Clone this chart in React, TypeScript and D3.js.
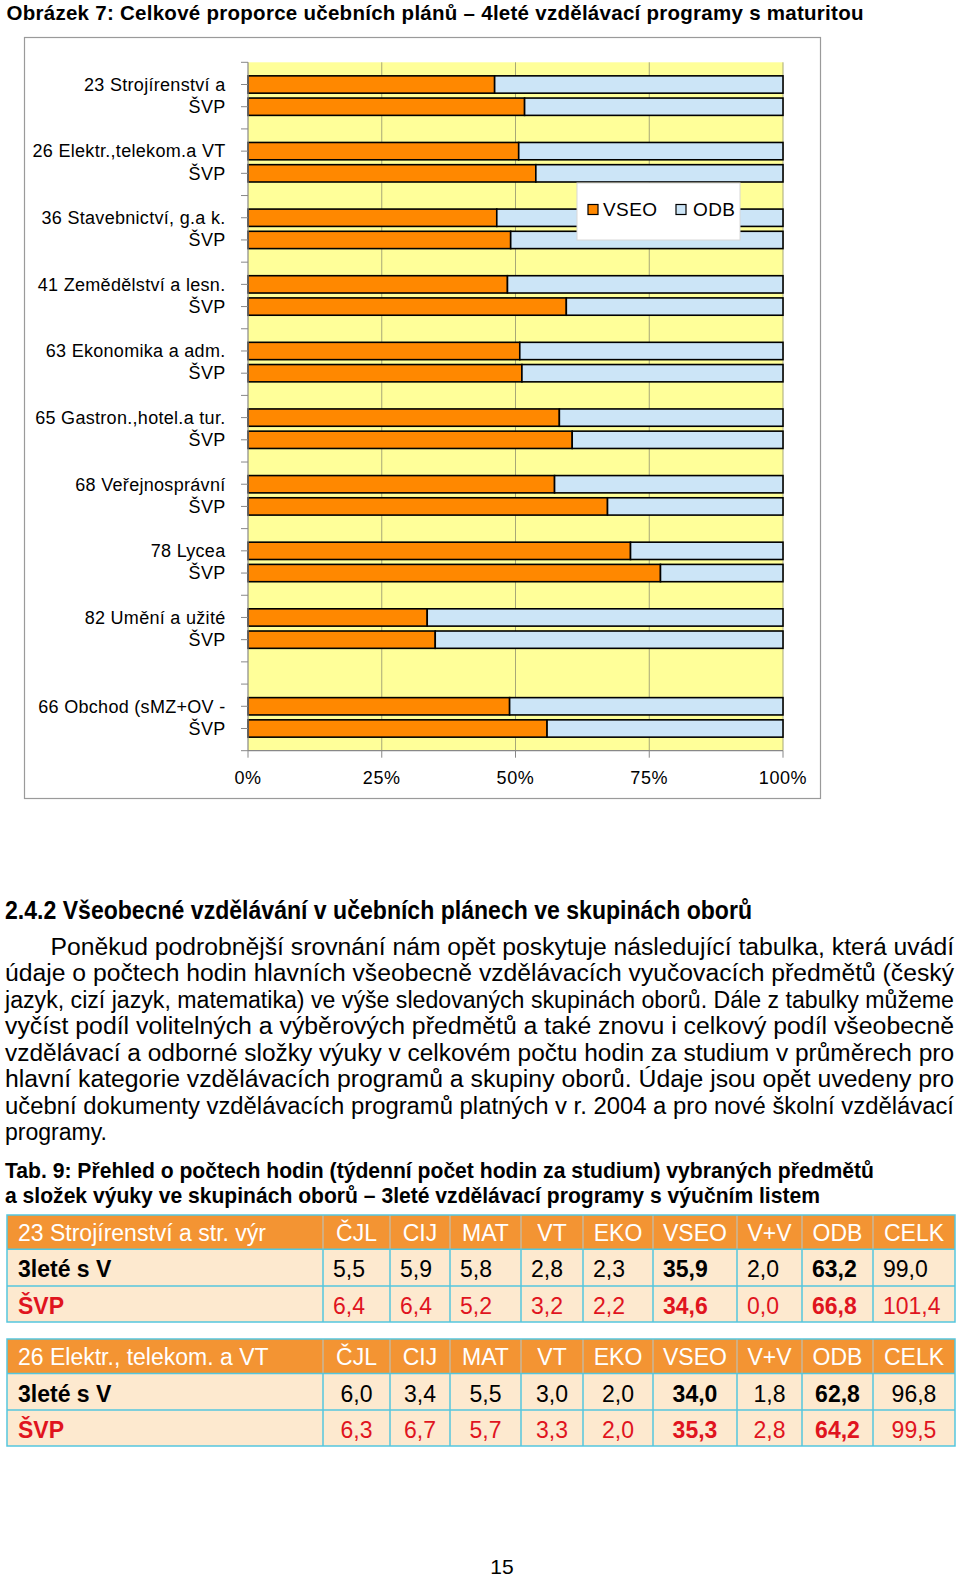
import React from "react";
import * as d3 from "d3";

const FONT = "'Liberation Sans', Arial, sans-serif";

// ---------- chart data ----------
const groupLabels = [
  "23 Strojírenství a",
  "26 Elektr.,telekom.a VT",
  "36 Stavebnictví, g.a k.",
  "41 Zemědělství a lesn.",
  "63 Ekonomika a adm.",
  "65 Gastron.,hotel.a tur.",
  "68 Veřejnosprávní",
  "78 Lycea",
  "82 Umění a užité",
  "66 Obchod (sMZ+OV -",
];
const svpLabel = "ŠVP";
const vseoBase = [46.1, 50.6, 46.5, 48.5, 50.8, 58.2, 57.3, 71.5, 33.5, 48.9];
const odbBase = [53.9, 49.4, 53.5, 51.5, 49.2, 41.8, 42.7, 28.5, 66.5, 51.1];
const vseoSvp = [51.7, 53.8, 49.1, 59.5, 51.2, 60.6, 67.2, 77.1, 35.0, 55.9];
const odbSvp = [48.3, 46.2, 50.9, 40.5, 48.8, 39.4, 32.8, 22.9, 65.0, 44.1];
const seriesKeys = ["VSEO", "ODB"];
const xTicks = [0, 0.25, 0.5, 0.75, 1];

// ---------- text ----------
const titleText =
  "Obrázek 7: Celkové proporce učebních plánů – 4leté  vzdělávací programy s maturitou";
const headingText = "2.4.2 Všeobecné vzdělávání v učebních plánech ve skupinách oborů";
const paragraphLines = [
  "Poněkud podrobnější srovnání nám opět poskytuje následující tabulka, která uvádí",
  "údaje o počtech hodin hlavních všeobecně vzdělávacích vyučovacích předmětů (český",
  "jazyk, cizí jazyk, matematika) ve výše sledovaných skupinách oborů. Dále z tabulky můžeme",
  "vyčíst podíl volitelných a výběrových předmětů a také znovu i celkový podíl všeobecně",
  "vzdělávací a odborné složky výuky v celkovém počtu hodin za studium v průměrech pro",
  "hlavní kategorie vzdělávacích programů a skupiny oborů. Údaje jsou opět uvedeny pro",
  "učební dokumenty vzdělávacích programů platných v r. 2004 a pro nové školní vzdělávací",
  "programy.",
];
const captionLines = [
  "Tab. 9: Přehled o počtech hodin (týdenní počet hodin za studium)  vybraných předmětů",
  "a složek výuky ve skupinách oborů – 3leté  vzdělávací programy s výučním listem",
];

// ---------- table data ----------
const tableCols = ["ČJL", "CIJ", "MAT", "VT", "EKO", "VSEO", "V+V", "ODB", "CELK"];
const boldCols = ["VSEO", "ODB"];
const t1Title = "23 Strojírenství a str. výr";
const t1Row1 = [5.5, 5.9, 5.8, 2.8, 2.3, 35.9, 2.0, 63.2, 99.0];
const t1Row2 = [6.4, 6.4, 5.2, 3.2, 2.2, 34.6, 0.0, 66.8, 101.4];
const t2Title = "26 Elektr., telekom. a VT";
const t2Row1 = [6.0, 3.4, 5.5, 3.0, 2.0, 34.0, 1.8, 62.8, 96.8];
const t2Row2 = [6.3, 6.7, 5.7, 3.3, 2.0, 35.3, 2.8, 64.2, 99.5];
const rowLabel1 = "3leté s V";
const rowLabel2 = "ŠVP";
const pageNumber = "15";

const fmt = (v: number) => d3.format(".1f")(v).replace(".", ",");

type Slot = { key: string; label: string; VSEO?: number; ODB?: number };

function Chart() {
  const slots: Slot[] = [];
  groupLabels.forEach((g, i) => {
    if (i === groupLabels.length - 1) slots.push({ key: `bx${i}`, label: "" });
    slots.push({ key: `g${i}`, label: g, VSEO: vseoBase[i], ODB: odbBase[i] });
    slots.push({ key: `s${i}`, label: svpLabel, VSEO: vseoSvp[i], ODB: odbSvp[i] });
    if (i < groupLabels.length - 1) slots.push({ key: `b${i}`, label: "" });
  });
  const barRows = slots.filter((s) => s.VSEO !== undefined);

  const left = 248,
    right = 783,
    top = 62.3,
    bottom = 750.7;
  const x = d3.scaleLinear().domain([0, 1]).range([left, right]);
  const y = d3
    .scalePoint<string>()
    .domain(slots.map((s) => s.key))
    .range([top, bottom])
    .padding(1);
  const step = y.step();
  const bh = step * 0.78;

  const stack = d3
    .stack<Slot>()
    .keys(seriesKeys)
    .value((d, k) => (d as any)[k] as number)
    .offset(d3.stackOffsetExpand);
  const stacked = stack(barRows);
  const colors: Record<string, string> = { VSEO: "#FF8800", ODB: "#CCE5F7" };

  const tickYs = [top, ...slots.map((s) => y(s.key) as number), bottom];

  return (
    <g>
      <rect x={24.5} y={37.5} width={796} height={761} fill="#fff" stroke="#9a9a9a" strokeWidth={1.2} />
      <rect x={left} y={top} width={right - left} height={bottom - top} fill="#FFFF99" />
      {xTicks.slice(1).map((t) => (
        <line key={t} x1={x(t)} x2={x(t)} y1={top} y2={bottom} stroke="#a8a878" strokeWidth={1} />
      ))}
      {stacked.map((series) => (
        <g key={series.key}>
          {series.map((d) => (
            <rect
              key={d.data.key}
              x={x(d[0])}
              y={(y(d.data.key) as number) - bh / 2}
              width={x(d[1]) - x(d[0])}
              height={bh}
              fill={colors[series.key]}
              stroke="#000"
              strokeWidth={1.6}
            />
          ))}
        </g>
      ))}
      {/* axes */}
      <line x1={left} x2={left} y1={top} y2={bottom} stroke="#888" strokeWidth={1.2} />
      <line x1={left} x2={right} y1={bottom} y2={bottom} stroke="#888" strokeWidth={1.2} />
      {tickYs.map((ty, i) => (
        <line key={i} x1={left - 7} x2={left} y1={ty} y2={ty} stroke="#888" strokeWidth={1} />
      ))}
      {xTicks.map((t) => (
        <g key={t}>
          <line x1={x(t)} x2={x(t)} y1={bottom} y2={bottom + 7} stroke="#888" strokeWidth={1} />
          <text
            x={x(t)}
            y={784}
            textAnchor="middle"
            fontFamily={FONT}
            fontSize={18}
            letterSpacing={0.6}
            fill="#000"
          >
            {d3.format(".0%")(t)}
          </text>
        </g>
      ))}
      {slots
        .filter((s) => s.label)
        .map((s) => (
          <text
            key={s.key}
            x={225.5}
            y={(y(s.key) as number) + 6.3}
            textAnchor="end"
            fontFamily={FONT}
            fontSize={18}
            letterSpacing={0.3}
            fill="#000"
          >
            {s.label}
          </text>
        ))}
      {/* legend */}
      <rect x={577} y={183} width={163} height={57} fill="#fff" stroke="#d8d8d8" strokeWidth={1} />
      <rect x={588} y={204.5} width={10} height={10} fill={colors.VSEO} stroke="#000" strokeWidth={1.2} />
      <text x={603} y={216} fontFamily={FONT} fontSize={19} letterSpacing={0.4}>
        {seriesKeys[0]}
      </text>
      <rect x={676} y={204.5} width={10} height={10} fill={colors.ODB} stroke="#000" strokeWidth={1.2} />
      <text x={693} y={216} fontFamily={FONT} fontSize={19} letterSpacing={0.4}>
        {seriesKeys[1]}
      </text>
    </g>
  );
}

const colX = [7, 323, 390, 450, 521, 583, 653, 737, 802, 873, 955];

function DataTable({
  top,
  rowH,
  title,
  r1,
  r2,
  center,
}: {
  top: number;
  rowH: number[];
  title: string;
  r1: number[];
  r2: number[];
  center: boolean;
}) {
  const ys = [top, top + rowH[0], top + rowH[0] + rowH[1], top + rowH[0] + rowH[1] + rowH[2]];
  const red = "#E0141E";
  const cyan = "#55C6DE";
  const rows = [
    { label: rowLabel1, vals: r1, color: "#000" },
    { label: rowLabel2, vals: r2, color: red },
  ];
  return (
    <g fontFamily={FONT} fontSize={23}>
      <rect x={colX[0]} y={ys[0]} width={colX[10] - colX[0]} height={rowH[0]} fill="#F39433" />
      <rect x={colX[0]} y={ys[1]} width={colX[10] - colX[0]} height={ys[3] - ys[1]} fill="#FDE9CF" />
      {colX.slice(1, 10).map((cx, i) => (
        <line key={i} x1={cx} x2={cx} y1={ys[0]} y2={ys[1]} stroke="#C9B79A" strokeWidth={1.5} />
      ))}
      {colX.slice(1, 10).map((cx, i) => (
        <line key={"b" + i} x1={cx} x2={cx} y1={ys[1]} y2={ys[3]} stroke={cyan} strokeWidth={1.5} />
      ))}
      <line x1={colX[0]} x2={colX[10]} y1={ys[1]} y2={ys[1]} stroke={cyan} strokeWidth={1.5} />
      <line x1={colX[0]} x2={colX[10]} y1={ys[2]} y2={ys[2]} stroke={cyan} strokeWidth={1.5} />
      <rect
        x={colX[0]}
        y={ys[0]}
        width={colX[10] - colX[0]}
        height={ys[3] - ys[0]}
        fill="none"
        stroke={cyan}
        strokeWidth={1.5}
      />
      <text x={18} y={ys[0] + 26} fill="#fff">
        {title}
      </text>
      {tableCols.map((c, i) => (
        <text key={c} x={(colX[i + 1] + colX[i + 2]) / 2} y={ys[0] + 26} fill="#fff" textAnchor="middle">
          {c}
        </text>
      ))}
      {rows.map((r, ri) => (
        <g key={ri} fill={r.color}>
          <text x={18} y={ys[ri + 1] + 28} fontWeight="bold">
            {r.label}
          </text>
          {r.vals.map((v, i) => (
            <text
              key={i}
              x={center ? (colX[i + 1] + colX[i + 2]) / 2 : colX[i + 1] + 10}
              y={ys[ri + 1] + 28}
              textAnchor={center ? "middle" : "start"}
              fontWeight={boldCols.includes(tableCols[i]) ? "bold" : "normal"}
            >
              {fmt(v)}
            </text>
          ))}
        </g>
      ))}
    </g>
  );
}

export default function App() {
  const paraBase = [954.5, 981, 1007.5, 1034, 1060.5, 1087, 1113.5, 1140];
  return (
    <svg
      width={960}
      height={1580}
      style={{ position: "absolute", left: 0, top: 0 }}
      xmlns="http://www.w3.org/2000/svg"
    >
      <rect width={960} height={1580} fill="#fff" />
      <text
        x={6.5}
        y={19.5}
        fontFamily={FONT}
        fontWeight="bold"
        fontSize={20.5}
        textLength={857}
        lengthAdjust="spacing"
      >
        {titleText}
      </text>
      <Chart />
      <text
        x={5}
        y={919}
        fontFamily={FONT}
        fontWeight="bold"
        fontSize={25}
        textLength={747}
        lengthAdjust="spacingAndGlyphs"
      >
        {headingText}
      </text>
      {paragraphLines.map((l, i) => {
        const x0 = i === 0 ? 50.5 : 5;
        const last = i === paragraphLines.length - 1;
        return (
          <text
            key={i}
            x={x0}
            y={paraBase[i]}
            fontFamily={FONT}
            fontSize={23}
            textLength={last ? 102 : 954 - x0}
            lengthAdjust="spacingAndGlyphs"
          >
            {l}
          </text>
        );
      })}
      {captionLines.map((l, i) => (
        <text
          key={i}
          x={5}
          y={1177.5 + i * 25.5}
          fontFamily={FONT}
          fontWeight="bold"
          fontSize={22}
          textLength={i === 0 ? 869 : 815}
          lengthAdjust="spacingAndGlyphs"
        >
          {l}
        </text>
      ))}
      <DataTable top={1215} rowH={[34.3, 36.7, 36]} title={t1Title} r1={t1Row1} r2={t1Row2} center={false} />
      <DataTable top={1339} rowH={[34.5, 36.5, 36]} title={t2Title} r1={t2Row1} r2={t2Row2} center={true} />
      <text x={502} y={1574} textAnchor="middle" fontFamily={FONT} fontSize={21}>
        {pageNumber}
      </text>
    </svg>
  );
}
